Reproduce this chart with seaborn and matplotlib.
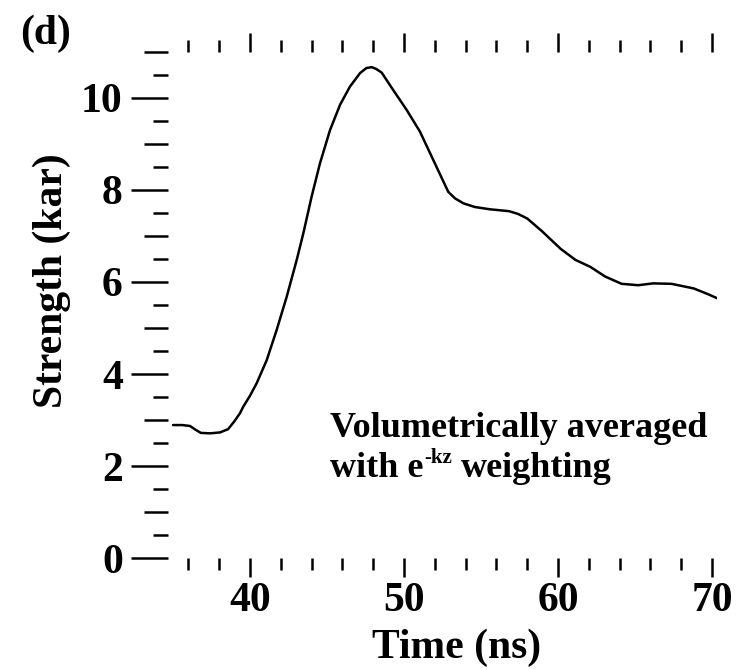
import matplotlib
matplotlib.use("Agg")
import matplotlib.pyplot as plt
from matplotlib.ticker import MultipleLocator, FixedLocator, NullFormatter
import seaborn as sns
import pandas as pd

# Volumetrically averaged strength trace
time_ns = [35.00, 35.60, 36.10, 36.45, 36.80, 37.40, 38.05, 38.57, 39.00, 39.35,
           39.56, 40.00, 40.43, 41.08, 41.73, 42.38, 43.03, 43.46, 44.00, 44.54,
           45.19, 45.84, 46.49, 47.14, 47.55, 47.90, 48.20, 48.55, 49.30, 50.17,
           51.03, 51.90, 52.87, 53.30, 53.85, 54.60, 55.58, 56.81, 57.40, 58.00,
           58.97, 60.17, 61.13, 62.09, 63.05, 64.13, 65.21, 66.17, 67.37, 68.81,
           69.77, 70.38]
strength_kar = [2.89, 2.89, 2.87, 2.79, 2.72, 2.71, 2.73, 2.80, 2.98, 3.15,
                3.29, 3.53, 3.80, 4.30, 4.96, 5.68, 6.48, 7.06, 7.86, 8.58,
                9.30, 9.85, 10.25, 10.54, 10.65, 10.67, 10.63, 10.55, 10.17, 9.74,
                9.27, 8.65, 7.96, 7.82, 7.71, 7.63, 7.58, 7.54, 7.48, 7.38,
                7.10, 6.72, 6.48, 6.33, 6.12, 5.96, 5.93, 5.97, 5.96, 5.86,
                5.73, 5.64]

x_major = [40, 50, 60, 70]
x_labels = ["40", "50", "60", "70"]
y_major = [0, 2, 4, 6, 8, 10]
y_labels = ["0", "2", "4", "6", "8", "10"]

df = pd.DataFrame({"Time (ns)": time_ns, "Strength (kar)": strength_kar})

sns.set_theme(style="white")
plt.rcParams["font.family"] = ["Liberation Serif", "DejaVu Serif"]
plt.rcParams["font.weight"] = "bold"
plt.rcParams["text.color"] = "black"
plt.rcParams["axes.labelcolor"] = "black"

fig = plt.figure(figsize=(7.4, 6.69), dpi=100)
ax = fig.add_axes([0.2270, 0.1659, 0.7419, 0.7564])

sns.lineplot(data=df, x="Time (ns)", y="Strength (kar)", color="black",
             linewidth=1.8, ax=ax)

ax.set_xlim(34.67, 70.32)
ax.set_ylim(0, 11)
for side in ax.spines.values():
    side.set_visible(False)

# x axis: labelled decades, ticks every 2 ns on top and bottom
ax.set_xticks(x_major)
ax.set_xticklabels(x_labels)
ax.xaxis.set_minor_locator(MultipleLocator(2))
ax.tick_params(axis="x", which="both", direction="out", top=True, bottom=True,
               labeltop=False, width=1.8, colors="black")
ax.tick_params(axis="x", which="major", length=13.5, pad=4, labelsize=30)
ax.tick_params(axis="x", which="minor", length=8.5)

# y axis: even labels, odd integers and half steps as shorter marks
ax.set_yticks(y_major)
ax.set_yticklabels(y_labels)
ax.yaxis.set_minor_locator(FixedLocator([1, 3, 5, 7, 9, 11]))
ax.tick_params(axis="y", which="both", direction="out", left=True, right=False,
               width=1.8, colors="black")
ax.tick_params(axis="y", which="major", length=26.5, pad=6, labelsize=30)
ax.tick_params(axis="y", which="minor", length=17)

halves = ax.secondary_yaxis("left")
halves.set_yticks([v + 0.5 for v in range(11)])
halves.yaxis.set_major_formatter(NullFormatter())
halves.tick_params(axis="y", direction="out", length=10.5, width=1.8, colors="black")
halves.spines["left"].set_visible(False)

for lab in ax.get_xticklabels() + ax.get_yticklabels():
    lab.set_fontweight("bold")
    lab.set_color("black")

ax.set_xlabel("Time (ns)", fontsize=30, fontweight="bold", color="black")
ax.xaxis.set_label_coords(0.526, -0.198)
ax.xaxis.label.set_va("baseline")
ax.set_ylabel("Strength (kar)", fontsize=30, fontweight="bold", color="black")
ax.yaxis.set_label_coords(-0.211, 0.549)
ax.yaxis.label.set_va("center")

fig.text(20 / 740, (669 - 44) / 669, "(d)", fontsize=30, fontweight="bold",
         color="black", ha="left", va="baseline")

# annotation, second line carries a superscript exponent
ax.text(45.19, 2.63, "Volumetrically averaged", fontsize=26, fontweight="bold",
        color="black", ha="left", va="baseline")
base_y = 1.76
t1 = ax.text(45.19, base_y, "with e", fontsize=26, fontweight="bold",
             color="black", ha="left", va="baseline")
sup = ax.annotate("-kz", xy=(1, base_y), xycoords=(t1, "data"),
                  xytext=(0.5, 10), textcoords="offset points",
                  fontsize=15, fontweight="bold", color="black",
                  ha="left", va="baseline")
ax.annotate("weighting", xy=(1, base_y), xycoords=(sup, "data"),
            xytext=(6.5, 0), textcoords="offset points",
            fontsize=26, fontweight="bold", color="black",
            ha="left", va="baseline")

fig.savefig("out.png", dpi=100, facecolor="white")
